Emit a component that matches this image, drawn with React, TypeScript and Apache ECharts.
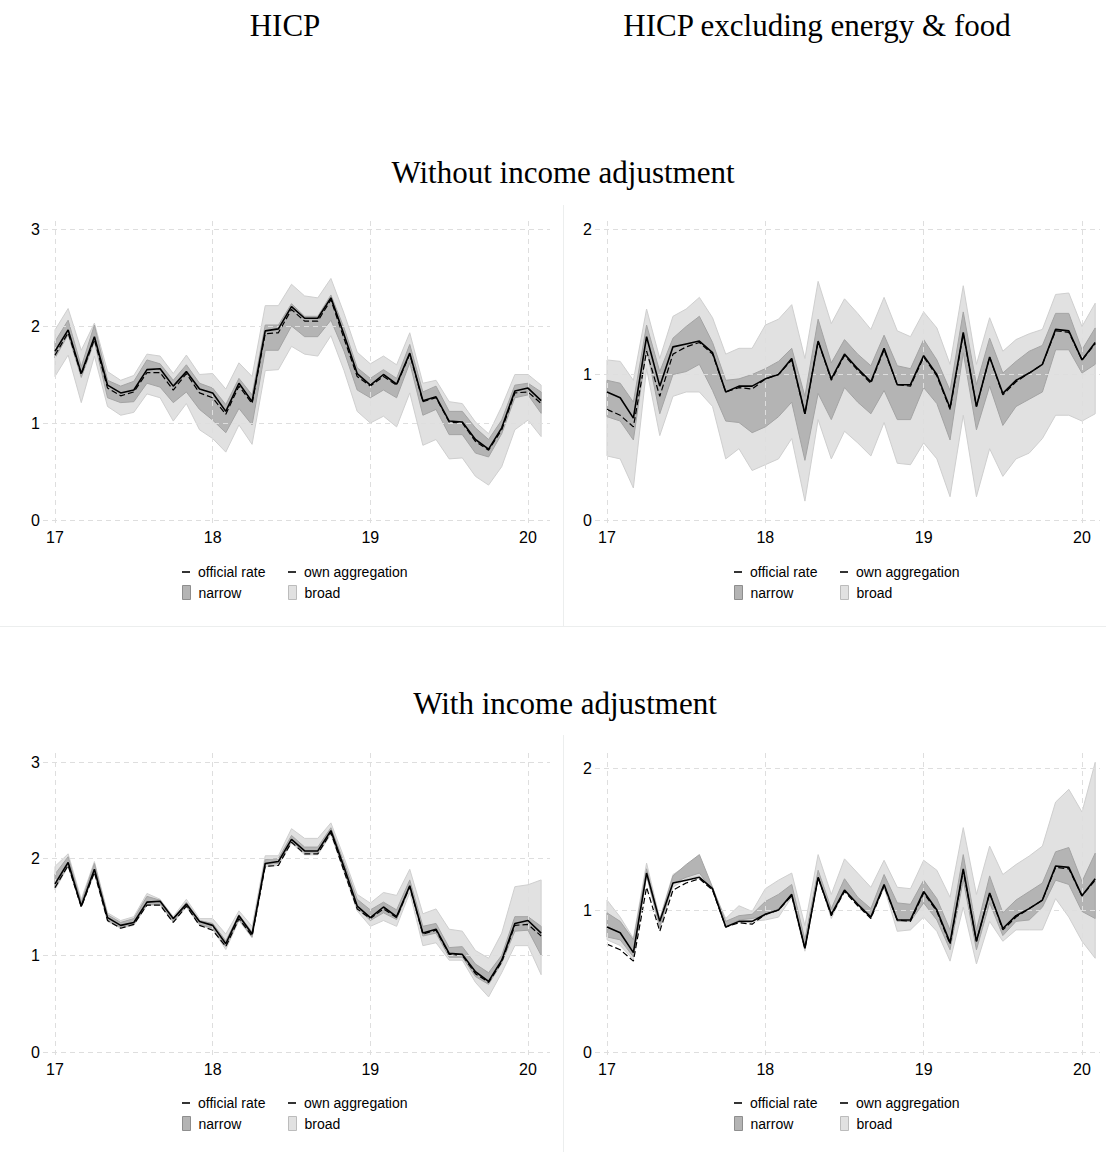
import React, { useEffect, useRef } from 'react';
import * as echarts from 'echarts';

// ---------- DATA ----------
const MONTHS = [
  '2017-01','2017-02','2017-03','2017-04','2017-05','2017-06','2017-07','2017-08','2017-09','2017-10','2017-11','2017-12',
  '2018-01','2018-02','2018-03','2018-04','2018-05','2018-06','2018-07','2018-08','2018-09','2018-10','2018-11','2018-12',
  '2019-01','2019-02','2019-03','2019-04','2019-05','2019-06','2019-07','2019-08','2019-09','2019-10','2019-11','2019-12',
  '2020-01','2020-02',
];
const X_TICKS = [17, 18, 19, 20];
const Y_TICKS_HICP = [0, 1, 2, 3];
const Y_TICKS_CORE = [0, 1, 2];

const hicpOfficial = [1.74,1.96,1.51,1.89,1.39,1.31,1.34,1.55,1.56,1.38,1.53,1.35,1.31,1.12,1.41,1.22,1.95,1.97,2.20,2.08,2.08,2.29,1.91,1.51,1.39,1.50,1.40,1.72,1.23,1.27,1.02,1.01,0.83,0.73,0.95,1.33,1.36,1.23];
const hicpOwn = [1.70,1.93,1.50,1.86,1.36,1.28,1.32,1.52,1.52,1.34,1.51,1.31,1.26,1.09,1.38,1.20,1.92,1.93,2.17,2.05,2.05,2.27,1.87,1.48,1.38,1.48,1.39,1.71,1.22,1.26,1.01,1.00,0.81,0.72,0.93,1.31,1.32,1.20];
const coreOfficial = [0.88,0.84,0.70,1.26,0.92,1.19,1.21,1.23,1.15,0.88,0.92,0.92,0.97,1.00,1.11,0.73,1.23,0.97,1.14,1.04,0.95,1.18,0.93,0.93,1.13,1.00,0.77,1.29,0.78,1.12,0.87,0.96,1.01,1.07,1.31,1.30,1.10,1.22];
const coreOwn = [0.76,0.72,0.64,1.16,0.85,1.14,1.19,1.22,1.14,0.88,0.91,0.90,0.97,1.00,1.10,0.73,1.23,0.96,1.13,1.03,0.94,1.17,0.93,0.92,1.12,0.99,0.76,1.28,0.78,1.12,0.86,0.95,1.01,1.07,1.30,1.29,1.10,1.21];

// Without income adjustment, HICP
const hicpNoAdjNarrowLo = [1.67,1.91,1.47,1.84,1.26,1.21,1.22,1.41,1.37,1.21,1.32,1.14,1.03,0.90,1.15,0.98,1.75,1.75,2.00,1.89,1.89,2.06,1.74,1.34,1.26,1.34,1.26,1.62,1.08,1.14,0.88,0.88,0.69,0.65,0.89,1.26,1.29,1.10];
const hicpNoAdjNarrowHi = [1.84,2.06,1.58,2.01,1.44,1.38,1.43,1.65,1.61,1.44,1.60,1.41,1.36,1.19,1.46,1.29,2.01,2.01,2.23,2.10,2.10,2.32,1.98,1.57,1.46,1.55,1.46,1.81,1.32,1.38,1.12,1.12,0.95,0.83,1.03,1.39,1.41,1.32];
const hicpNoAdjBroadLo = [1.48,1.70,1.21,1.69,1.17,1.08,1.11,1.30,1.26,1.02,1.20,0.93,0.84,0.70,0.98,0.78,1.54,1.55,1.79,1.71,1.69,1.90,1.54,1.12,1.00,1.07,0.96,1.31,0.77,0.83,0.63,0.64,0.45,0.36,0.55,0.93,1.03,0.86];
const hicpNoAdjBroadHi = [1.96,2.18,1.75,2.03,1.53,1.44,1.49,1.71,1.69,1.51,1.70,1.50,1.51,1.35,1.62,1.48,2.21,2.21,2.43,2.31,2.29,2.49,2.13,1.73,1.61,1.69,1.60,1.93,1.41,1.44,1.22,1.20,1.01,0.89,1.17,1.50,1.50,1.39];

// Without income adjustment, HICP excl. energy & food
const coreNoAdjNarrowLo = [0.71,0.68,0.55,1.18,0.73,1.00,1.02,1.07,0.89,0.68,0.67,0.60,0.64,0.71,0.81,0.41,0.87,0.69,0.91,0.81,0.73,0.89,0.69,0.69,0.91,0.80,0.55,1.15,0.62,0.92,0.65,0.78,0.83,0.88,1.17,1.17,1.01,1.07];
const coreNoAdjNarrowHi = [0.96,0.94,0.81,1.34,1.02,1.25,1.33,1.40,1.22,0.96,0.97,1.00,1.04,1.09,1.18,0.85,1.38,1.08,1.24,1.14,1.06,1.27,1.06,1.04,1.24,1.10,0.89,1.43,0.93,1.25,1.01,1.09,1.16,1.20,1.42,1.42,1.17,1.32];
const coreNoAdjBroadLo = [0.44,0.42,0.22,1.04,0.58,0.85,0.88,0.88,0.78,0.42,0.49,0.34,0.38,0.42,0.56,0.13,0.69,0.42,0.61,0.53,0.44,0.67,0.39,0.38,0.53,0.42,0.16,0.72,0.16,0.49,0.30,0.42,0.46,0.56,0.72,0.72,0.68,0.73];
const coreNoAdjBroadHi = [1.10,1.09,0.96,1.45,1.11,1.40,1.45,1.53,1.39,1.14,1.18,1.18,1.34,1.38,1.48,1.11,1.64,1.35,1.52,1.42,1.31,1.53,1.30,1.26,1.43,1.32,1.07,1.61,1.07,1.39,1.16,1.24,1.28,1.31,1.55,1.56,1.33,1.49];

// With income adjustment, HICP
const hicpAdjNarrowLo = [1.70,1.93,1.50,1.86,1.36,1.29,1.32,1.52,1.53,1.35,1.51,1.32,1.28,1.09,1.37,1.19,1.94,1.95,2.18,2.06,2.06,2.27,1.88,1.49,1.36,1.44,1.37,1.70,1.20,1.23,0.98,0.98,0.78,0.70,0.92,1.25,1.26,1.00];
const hicpAdjNarrowHi = [1.84,2.02,1.55,1.95,1.42,1.34,1.38,1.61,1.57,1.38,1.55,1.36,1.33,1.15,1.42,1.24,1.99,2.00,2.24,2.12,2.12,2.32,1.96,1.58,1.47,1.55,1.47,1.78,1.30,1.33,1.08,1.09,0.91,0.82,1.00,1.40,1.40,1.30];
const hicpAdjBroadLo = [1.68,1.92,1.50,1.85,1.35,1.28,1.31,1.52,1.52,1.34,1.50,1.31,1.27,1.06,1.36,1.18,1.92,1.93,2.16,2.04,2.04,2.25,1.86,1.46,1.30,1.36,1.30,1.65,1.10,1.13,0.95,0.95,0.72,0.57,0.82,1.10,1.10,0.80];
const hicpAdjBroadHi = [1.92,2.05,1.58,1.97,1.44,1.36,1.40,1.64,1.58,1.40,1.58,1.38,1.38,1.22,1.46,1.30,2.03,2.03,2.31,2.21,2.21,2.37,2.01,1.63,1.54,1.65,1.62,1.89,1.43,1.48,1.27,1.25,1.05,0.97,1.23,1.71,1.73,1.78];

// With income adjustment, HICP excl. energy & food
const coreAdjNarrowLo = [0.81,0.79,0.67,1.24,0.88,1.19,1.23,1.26,1.14,0.88,0.93,0.94,0.96,1.01,1.11,0.73,1.22,0.96,1.14,1.05,0.96,1.16,0.92,0.92,1.05,0.93,0.72,1.21,0.72,1.05,0.82,0.92,0.93,1.02,1.21,1.18,0.99,0.94];
const coreAdjNarrowHi = [0.98,0.92,0.79,1.29,0.93,1.24,1.32,1.39,1.16,0.92,0.96,0.97,1.06,1.11,1.18,0.79,1.28,1.01,1.22,1.09,1.01,1.25,1.05,1.04,1.21,1.08,0.86,1.39,0.86,1.24,0.98,1.07,1.13,1.19,1.41,1.44,1.20,1.40];
const coreAdjBroadLo = [0.79,0.75,0.65,1.26,0.87,1.16,1.22,1.24,1.14,0.89,0.93,0.92,0.93,0.95,1.09,0.71,1.24,0.94,1.14,1.04,0.94,1.16,0.85,0.86,0.95,0.85,0.64,1.02,0.62,0.92,0.78,0.86,0.86,0.86,1.08,0.95,0.78,0.66];
const coreAdjBroadHi = [1.07,0.95,0.80,1.33,0.94,1.25,1.31,1.35,1.15,0.94,1.03,0.99,1.15,1.21,1.26,0.89,1.39,1.11,1.36,1.26,1.16,1.35,1.16,1.15,1.35,1.28,1.09,1.58,1.11,1.45,1.25,1.32,1.38,1.45,1.76,1.85,1.69,2.04];

const COLUMN_TITLES = ['HICP', 'HICP excluding energy & food'];
const ROW_TITLES = ['Without income adjustment', 'With income adjustment'];
const LEGEND_LINES = ['official rate', 'own aggregation'];
const LEGEND_BANDS = ['narrow', 'broad'];

// ---------- STYLE ----------
const SERIF = '"Liberation Serif", "Times New Roman", serif';
const SANS = '"Liberation Sans", Arial, Helvetica, sans-serif';
const NARROW_FILL = '#b4b4b4';
const NARROW_EDGE = '#a4a4a4';
const BROAD_FILL = '#e1e1e1';
const BROAD_EDGE = '#cfcfcf';
const GRID_COLOR = '#dedede';

// decimal year (two digits) of each month
const X = MONTHS.map((m) => {
  const [y, mo] = m.split('-').map(Number);
  return y - 2000 + (mo - 1) / 12;
});

type Panel = {
  official: number[]; own: number[];
  nLo: number[]; nHi: number[]; bLo: number[]; bHi: number[];
  yTicks: number[];
  // layout (pixels)
  gl: number; gr: number; gt: number; gb: number;
  x17: number; x20: number; yTop: number; y0: number;
  lx: number; ly: number;
};

const PANELS: Panel[] = [
  { official: hicpOfficial, own: hicpOwn, nLo: hicpNoAdjNarrowLo, nHi: hicpNoAdjNarrowHi, bLo: hicpNoAdjBroadLo, bHi: hicpNoAdjBroadHi,
    yTicks: Y_TICKS_HICP, gl: 43, gr: 550, gt: 220, gb: 523, x17: 55, x20: 528, yTop: 229, y0: 520, lx: 182, ly: 573 },
  { official: coreOfficial, own: coreOwn, nLo: coreNoAdjNarrowLo, nHi: coreNoAdjNarrowHi, bLo: coreNoAdjBroadLo, bHi: coreNoAdjBroadHi,
    yTicks: Y_TICKS_CORE, gl: 595, gr: 1100, gt: 220, gb: 523, x17: 607, x20: 1082, yTop: 229, y0: 520, lx: 734, ly: 573 },
  { official: hicpOfficial, own: hicpOwn, nLo: hicpAdjNarrowLo, nHi: hicpAdjNarrowHi, bLo: hicpAdjBroadLo, bHi: hicpAdjBroadHi,
    yTicks: Y_TICKS_HICP, gl: 43, gr: 550, gt: 751, gb: 1055, x17: 55, x20: 528, yTop: 762, y0: 1052, lx: 182, ly: 1104 },
  { official: coreOfficial, own: coreOwn, nLo: coreAdjNarrowLo, nHi: coreAdjNarrowHi, bLo: coreAdjBroadLo, bHi: coreAdjBroadHi,
    yTicks: Y_TICKS_CORE, gl: 595, gr: 1100, gt: 751, gb: 1055, x17: 607, x20: 1082, yTop: 768, y0: 1052, lx: 734, ly: 1104 },
];

// band as a custom series: one polygon (upper edge forward, lower edge backward)
function bandSeries(name: string, k: number, lo: number[], hi: number[], fill: string, edge: string, z: number) {
  return {
    type: 'custom', name, xAxisIndex: k, yAxisIndex: k, z, silent: true, animation: false,
    itemStyle: { color: fill },
    encode: { x: 0, y: [1, 2] },
    data: X.map((x, i) => [x, lo[i], hi[i]]),
    renderItem: (params: any, api: any) => {
      if (params.dataIndex !== 0) return null;
      const upper = X.map((x, i) => api.coord([x, hi[i]]));
      const lower = X.map((x, i) => api.coord([x, lo[i]])).reverse();
      return {
        type: 'polygon',
        shape: { points: upper.concat(lower) },
        style: { fill, stroke: edge, lineWidth: 1 },
      };
    },
  };
}

function buildOption() {
  const grid: any[] = [];
  const xAxis: any[] = [];
  const yAxis: any[] = [];
  const series: any[] = [];
  const legend: any[] = [];

  PANELS.forEach((p, k) => {
    grid.push({ left: p.gl, top: p.gt, width: p.gr - p.gl, height: p.gb - p.gt });
    const pxYr = (p.x20 - p.x17) / (X_TICKS[3] - X_TICKS[0]);
    const topTick = p.yTicks[p.yTicks.length - 1];
    const pxUnit = (p.y0 - p.yTop) / topTick;
    xAxis.push({
      type: 'value', gridIndex: k,
      min: X_TICKS[0] - (p.x17 - p.gl) / pxYr,
      max: X_TICKS[0] + (p.gr - p.x17) / pxYr,
      axisLine: { show: false }, axisTick: { show: false }, splitLine: { show: false },
      axisLabel: { customValues: X_TICKS, fontFamily: SANS, fontSize: 16, color: '#000', margin: 6 },
    });
    yAxis.push({
      type: 'value', gridIndex: k,
      min: -(p.gb - p.y0) / pxUnit,
      max: topTick + (p.yTop - p.gt) / pxUnit,
      axisLine: { show: false }, axisTick: { show: false }, splitLine: { show: false },
      axisLabel: { customValues: p.yTicks, fontFamily: SANS, fontSize: 16, color: '#000', margin: 3 },
    });
    const common = { xAxisIndex: k, yAxisIndex: k, symbol: 'none', showSymbol: false, silent: true, animation: false };
    // grid lines
    series.push({
      ...common, type: 'line', name: 'gridlines', z: 1,
      data: [[X[0], p.official[0]]], lineStyle: { opacity: 0 },
      markLine: {
        silent: true, symbol: ['none', 'none'], animation: false,
        label: { show: false },
        lineStyle: { color: GRID_COLOR, type: [5, 4], width: 1 },
        emphasis: { disabled: true },
        data: [...p.yTicks.map((v) => ({ yAxis: v })), ...X_TICKS.map((v) => ({ xAxis: v }))],
      },
    });
    series.push(bandSeries('broad', k, p.bLo, p.bHi, BROAD_FILL, BROAD_EDGE, 2));
    series.push(bandSeries('narrow', k, p.nLo, p.nHi, NARROW_FILL, NARROW_EDGE, 3));
    series.push({
      ...common, type: 'line', name: 'own aggregation', z: 4,
      data: X.map((x, i) => [x, p.own[i]]),
      lineStyle: { color: '#000', width: 1.2, type: [6, 3] },
    });
    series.push({
      ...common, type: 'line', name: 'official rate', z: 5,
      data: X.map((x, i) => [x, p.official[i]]),
      lineStyle: { color: '#000', width: 1.6 },
    });

    // legends: 2 columns x 2 rows
    const colX = [p.lx, p.lx + 106];
    const rowY = [p.ly, p.ly + 20];
    const textStyle = { fontFamily: SANS, fontSize: 14, color: '#000', padding: [0, 0, 0, 3] };
    LEGEND_LINES.forEach((name, c) => {
      legend.push({
        left: colX[c], top: rowY[0] - 8, padding: 0, selectedMode: false,
        itemWidth: 8, itemHeight: 1.6, textStyle,
        data: [{ name, icon: 'rect', itemStyle: { color: '#000', borderWidth: 0 } }],
      });
    });
    LEGEND_BANDS.forEach((name, c) => {
      legend.push({
        left: colX[c], top: rowY[1] - 8, padding: 0, selectedMode: false,
        itemWidth: 8, itemHeight: 14, textStyle,
        data: [{
          name, icon: 'rect',
          itemStyle: c === 0
            ? { color: NARROW_FILL, borderColor: '#8e8e8e', borderWidth: 1 }
            : { color: BROAD_FILL, borderColor: '#bcbcbc', borderWidth: 1 },
        }],
      });
    });
  });

  const titleFont = `31px ${SERIF}`;
  const sep = { stroke: '#eceeee', lineWidth: 1 };
  const graphic: any[] = [
    { type: 'line', silent: true, z: 0, shape: { x1: 563.5, y1: 205, x2: 563.5, y2: 626 }, style: sep },
    { type: 'line', silent: true, z: 0, shape: { x1: 563.5, y1: 735, x2: 563.5, y2: 1152 }, style: sep },
    { type: 'line', silent: true, z: 0, shape: { x1: 0, y1: 626.5, x2: 1106, y2: 626.5 }, style: sep },
    { type: 'text', x: 285, y: 25, style: { text: COLUMN_TITLES[0], font: titleFont, fill: '#000', textAlign: 'center', textVerticalAlign: 'middle' } },
    { type: 'text', x: 817, y: 25, style: { text: COLUMN_TITLES[1], font: titleFont, fill: '#000', textAlign: 'center', textVerticalAlign: 'middle' } },
    { type: 'text', x: 563, y: 172, style: { text: ROW_TITLES[0], font: titleFont, fill: '#000', textAlign: 'center', textVerticalAlign: 'middle' } },
    { type: 'text', x: 565, y: 703, style: { text: ROW_TITLES[1], font: titleFont, fill: '#000', textAlign: 'center', textVerticalAlign: 'middle' } },
  ];

  return { animation: false, backgroundColor: '#ffffff', grid, xAxis, yAxis, series, legend, graphic };
}

export default function App() {
  const ref = useRef<HTMLDivElement>(null);
  useEffect(() => {
    document.body.style.margin = '0';
    if (!ref.current) return;
    const chart = echarts.init(ref.current, undefined, { renderer: 'svg' });
    chart.setOption(buildOption() as any);
    return () => chart.dispose();
  }, []);
  return <div ref={ref} style={{ width: 1106, height: 1152 }} />;
}
